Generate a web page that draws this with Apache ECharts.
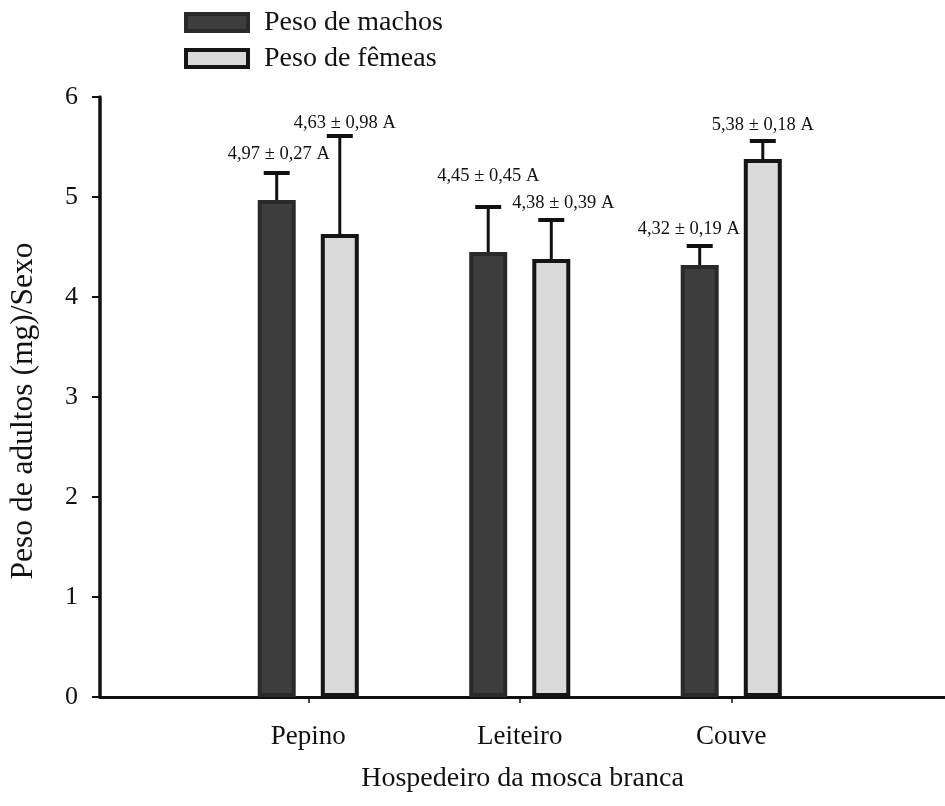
<!DOCTYPE html>
<html>
<head>
<meta charset="utf-8">
<script src="https://cdn.jsdelivr.net/npm/echarts@6/dist/echarts.min.js"></script>
<style>
html,body{margin:0;padding:0;background:#fff;}
#chart{width:945px;height:806px;}
</style>
</head>
<body>
<div id="chart"></div>
<script>
// ---- data ----
const categories = ['Pepino', 'Leiteiro', 'Couve'];
const seriesNames = ['Peso de machos', 'Peso de fêmeas'];
const maleMean = [4.97, 4.45, 4.32];
const maleErr = [0.27, 0.45, 0.19];
const maleLetter = ['A', 'A', 'A'];
const femaleMean = [4.63, 4.38, 5.38];
const femaleErr = [0.98, 0.39, 0.18];
const femaleLetter = ['A', 'A', 'A'];
const yTicks = [0, 1, 2, 3, 4, 5, 6];

// ---- layout / style (not data) ----
const FONT = '"Liberation Serif", "Times New Roman", serif';
const BAR_W = 38;
const BAR_GAP = '66%';
const HALF_PITCH = (BAR_W + BAR_W * 0.66) / 2;
// label nudges in px: [dx, rise above cap] per category
const maleLabelDx = [2, 0, -11];
const maleLabelRise = [19, 31, 17];
const femaleLabelDx = [5, 12, 0];
const femaleLabelRise = [13, 17, 16];

const GRID_TOP = 97, GRID_BOTTOM = 109;

function fmt(v) { return v.toFixed(2).replace('.', ','); }

function errData(means, errs, letters, dxs, rises) {
  return means.map((m, i) => [i, m, errs[i], letters[i], dxs[i], rises[i]]);
}

function errRender(side) {
  return function (params, api) {
    const ci = api.value(0), m = api.value(1), e = api.value(2);
    const letter = api.value(3), dx = api.value(4), rise = api.value(5);
    const base = api.coord([ci, m]);
    const top = api.coord([ci, m + e]);
    const x = base[0] + side * HALF_PITCH;
    const capHalf = 13;
    return {
      type: 'group',
      children: [
        { type: 'line', shape: { x1: x, y1: base[1], x2: x, y2: top[1] },
          style: { stroke: '#111', lineWidth: 3 } },
        { type: 'line', shape: { x1: x - capHalf, y1: top[1], x2: x + capHalf, y2: top[1] },
          style: { stroke: '#111', lineWidth: 4 } },
        { type: 'text', x: x + dx, y: top[1] - rise,
          style: { text: fmt(m) + ' ± ' + fmt(e) + ' ' + letter,
                   fill: '#111', font: '18.5px ' + FONT,
                   textAlign: 'center', textVerticalAlign: 'middle' } }
      ]
    };
  };
}

const chart = echarts.init(document.getElementById('chart'));
chart.setOption({
  backgroundColor: '#ffffff',
  animation: false,
  legend: {
    orient: 'vertical',
    left: 184, top: 8.5, padding: 0,
    itemWidth: 62, itemHeight: 17, itemGap: 8,
    icon: 'rect',
    textStyle: { fontFamily: FONT, fontSize: 28, color: '#111', lineHeight: 28, padding: [0, 0, 0, 11] },
    data: [
      { name: seriesNames[0], itemStyle: { color: '#3d3d3d', borderColor: '#2a2a2a', borderWidth: 4 } },
      { name: seriesNames[1], itemStyle: { color: '#dadada', borderColor: '#151515', borderWidth: 4 } }
    ]
  },
  grid: [
    { left: 202.5, width: 634.5, top: GRID_TOP, bottom: GRID_BOTTOM },
    { left: 98, right: 0, top: GRID_TOP, bottom: GRID_BOTTOM }
  ],
  xAxis: [
    { type: 'category', gridIndex: 0, data: categories,
      axisLine: { show: false },
      axisTick: { show: true, alignWithLabel: true, length: 6, lineStyle: { color: '#111', width: 1.5 } },
      axisLabel: { fontFamily: FONT, fontSize: 27, color: '#111', margin: 26 } },
    { type: 'value', gridIndex: 1, min: 0, max: 1,
      axisLine: { show: true, lineStyle: { color: '#111', width: 3 } },
      axisTick: { show: false }, axisLabel: { show: false }, splitLine: { show: false },
      name: 'Hospedeiro da mosca branca', nameLocation: 'middle', nameGap: 68,
      nameTextStyle: { fontFamily: FONT, fontSize: 28, color: '#111' } }
  ],
  yAxis: [
    { type: 'value', gridIndex: 0, min: 0, max: 6, interval: 1, show: false, splitLine: { show: false } },
    { type: 'value', gridIndex: 1, min: 0, max: 6, interval: 1,
      data: yTicks,
      axisLine: { show: true, lineStyle: { color: '#111', width: 3.5 } },
      axisTick: { show: true, length: 8, lineStyle: { color: '#111', width: 2 } },
      axisLabel: { fontFamily: FONT, fontSize: 26, color: '#111', margin: 22 },
      splitLine: { show: false },
      name: 'Peso de adultos (mg)/Sexo', nameLocation: 'middle', nameGap: 60,
      nameTextStyle: { fontFamily: FONT, fontSize: 31.5, color: '#111', padding: [0, 28, 0, 0] } }
  ],
  series: [
    { name: seriesNames[0], type: 'bar', xAxisIndex: 0, yAxisIndex: 0,
      data: maleMean, barWidth: BAR_W, barGap: BAR_GAP,
      itemStyle: { color: '#3d3d3d', borderColor: '#2a2a2a', borderWidth: 4 } },
    { name: seriesNames[1], type: 'bar', xAxisIndex: 0, yAxisIndex: 0,
      data: femaleMean, barWidth: BAR_W, barGap: BAR_GAP,
      itemStyle: { color: '#dadada', borderColor: '#151515', borderWidth: 4 } },
    { type: 'custom', xAxisIndex: 0, yAxisIndex: 0, z: 5,
      renderItem: errRender(-1),
      data: errData(maleMean, maleErr, maleLetter, maleLabelDx, maleLabelRise) },
    { type: 'custom', xAxisIndex: 0, yAxisIndex: 0, z: 5,
      renderItem: errRender(1),
      data: errData(femaleMean, femaleErr, femaleLetter, femaleLabelDx, femaleLabelRise) }
  ]
});
</script>
</body>
</html>
